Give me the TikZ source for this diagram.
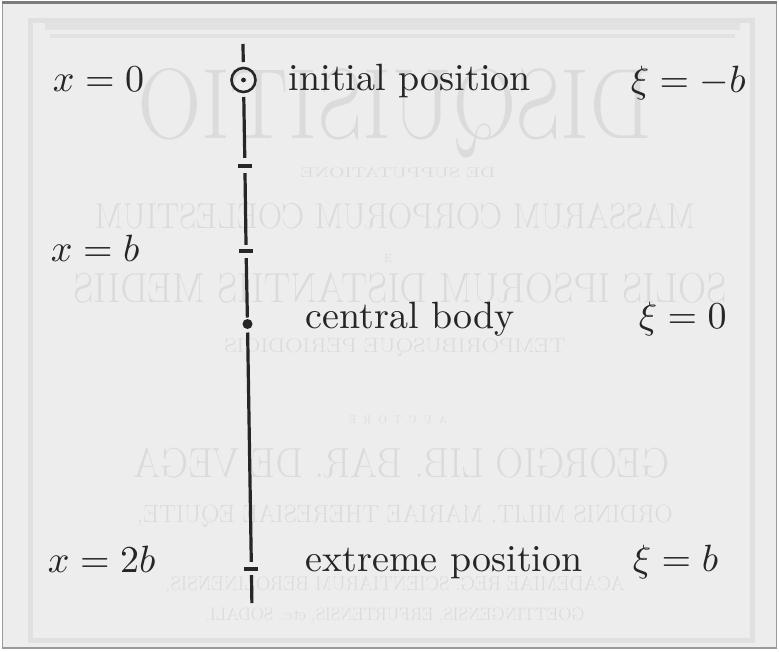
\documentclass[tikz,border=0pt]{standalone}
\definecolor{paper}{HTML}{EDEDED}
\definecolor{ink}{HTML}{262626}
\definecolor{ghostc}{HTML}{DBDBDB}
\definecolor{edgec}{HTML}{9A9A9A}
\begin{document}
\begin{tikzpicture}[x=1pt,y=-1pt,
  lbl/.style={anchor=base west, inner sep=0pt, text=ink, scale=3.8},
  ghost/.style={anchor=base, inner sep=0pt, text=ghostc},
  seg/.style={draw=ink, line width=3.2pt},
  tickmark/.style={rectangle, fill=ink, draw=none, minimum width=14pt, minimum height=3.4pt, inner sep=0pt, outer sep=0pt},
  ring/.style={circle, draw=ink, line width=2.6pt, minimum size=24pt, inner sep=0pt, outer sep=0pt},
  bodydot/.style={circle, fill=ink, draw=none, minimum size=10pt, inner sep=0pt, outer sep=0pt}]
% page
\useasboundingbox (0,0) rectangle (779,651);
\fill[white] (0,0) rectangle (779,651);
\fill[paper] (2,2) rectangle (777,648);
\draw[edgec, line width=1.6pt] (2.5,2.5) rectangle (776.5,648);
\draw[edgec!80!black, line width=3pt] (2,2.5) -- (777,2.5);
% faint bleed-through frame and text
\draw[ghostc!70!paper, line width=5pt] (30,20) rectangle (752,640);
\fill[ghostc!60!paper] (45,22) rectangle (740,30);
\fill[ghostc!60!paper] (50,34) rectangle (735,38);
\node[ghost, xscale=-0.88, font=\fontsize{100}{100}\selectfont] (g1) at (395,138) {DISQUISITIO};
\node[ghost, xscale=-1.45, font=\fontsize{14}{14}\selectfont] (g2) at (398,177) {DE SUPPUTATIONE};
\node[ghost, xscale=-0.93, font=\fontsize{36}{36}\selectfont] (g3) at (395,228) {MASSARUM CORPORUM COELESTIUM};
\node[ghost, font=\fontsize{12}{12}\selectfont] (g4) at (388,262) {E};
\node[ghost, xscale=-0.93, font=\fontsize{42}{42}\selectfont] (g5) at (400,302) {SOLIS IPSORUM DISTANTIIS MEDIIS};
\node[ghost, xscale=-1.2, font=\fontsize{20}{20}\selectfont] (g6) at (395,352) {TEMPORIBUSQUE PERIODICIS};
\node[ghost, xscale=-1, font=\fontsize{11}{11}\selectfont] (g7) at (398,423) {A\ \ U\ \ C\ \ T\ \ O\ \ R\ \ E};
\node[ghost, xscale=-0.92, font=\fontsize{42}{42}\selectfont] (g8) at (402,477) {GEORGIO LIB. BAR. DE VEGA};
\node[ghost, xscale=-1, font=\fontsize{25}{25}\selectfont] (g9) at (405,522) {ORDINIS MILIT. MARIAE THERESIAE EQUITE,};
\node[ghost, xscale=-1, font=\fontsize{20}{20}\selectfont] (g10) at (395,590) {ACADEMIAE REG. SCIENTIARUM BEROLINENSIS,};
\node[ghost, xscale=-1, font=\fontsize{18}{18}\selectfont] (g11) at (395,620) {GOETTINGENSIS, ERFURTENSIS, etc. SODALI.};
% axis
\coordinate (top) at (243,44);
\node[ring] (init) at (243.5,80) {};
\fill[ink] (init.center) circle (2.4pt);
\node[tickmark] (t1) at (244.9,166) {};
\node[tickmark] (t2) at (246.1,251) {};
\node[bodydot] (body) at (247.5,324) {};
\node[tickmark] (t3) at (251.4,569) {};
\coordinate (bottom) at (251.9,603);
\draw[seg, shorten >=6pt] (top) -- (init);
\draw[seg, shorten <=5pt, shorten >=6.5pt] (init) -- (t1);
\draw[seg, shorten <=5.5pt, shorten >=4.5pt] (t1) -- (t2);
\draw[seg, shorten <=5.5pt, shorten >=1.5pt] (t2) -- (body);
\draw[seg, shorten <=3.5pt, shorten >=5.5pt] (body) -- (t3);
\draw[seg, shorten <=4.5pt] (t3) -- (bottom);
% labels
\node[lbl] (x0) at (52,91) {$x=0$};
\node[lbl] (xb) at (50,261) {$x=b$};
\node[lbl] (x2b) at (47,572) {$x=2b$};
\node[lbl] (ip) at (288,90) {initial position};
\node[lbl] (cb) at (305,328) {central body};
\node[lbl] (ep) at (305,571) {extreme position};
\node[lbl] (xi1) at (630,92) {$\xi=-b$};
\node[lbl] (xi2) at (638,328) {$\xi=0$};
\node[lbl] (xi3) at (632,571) {$\xi=b$};
\end{tikzpicture}
\end{document}
